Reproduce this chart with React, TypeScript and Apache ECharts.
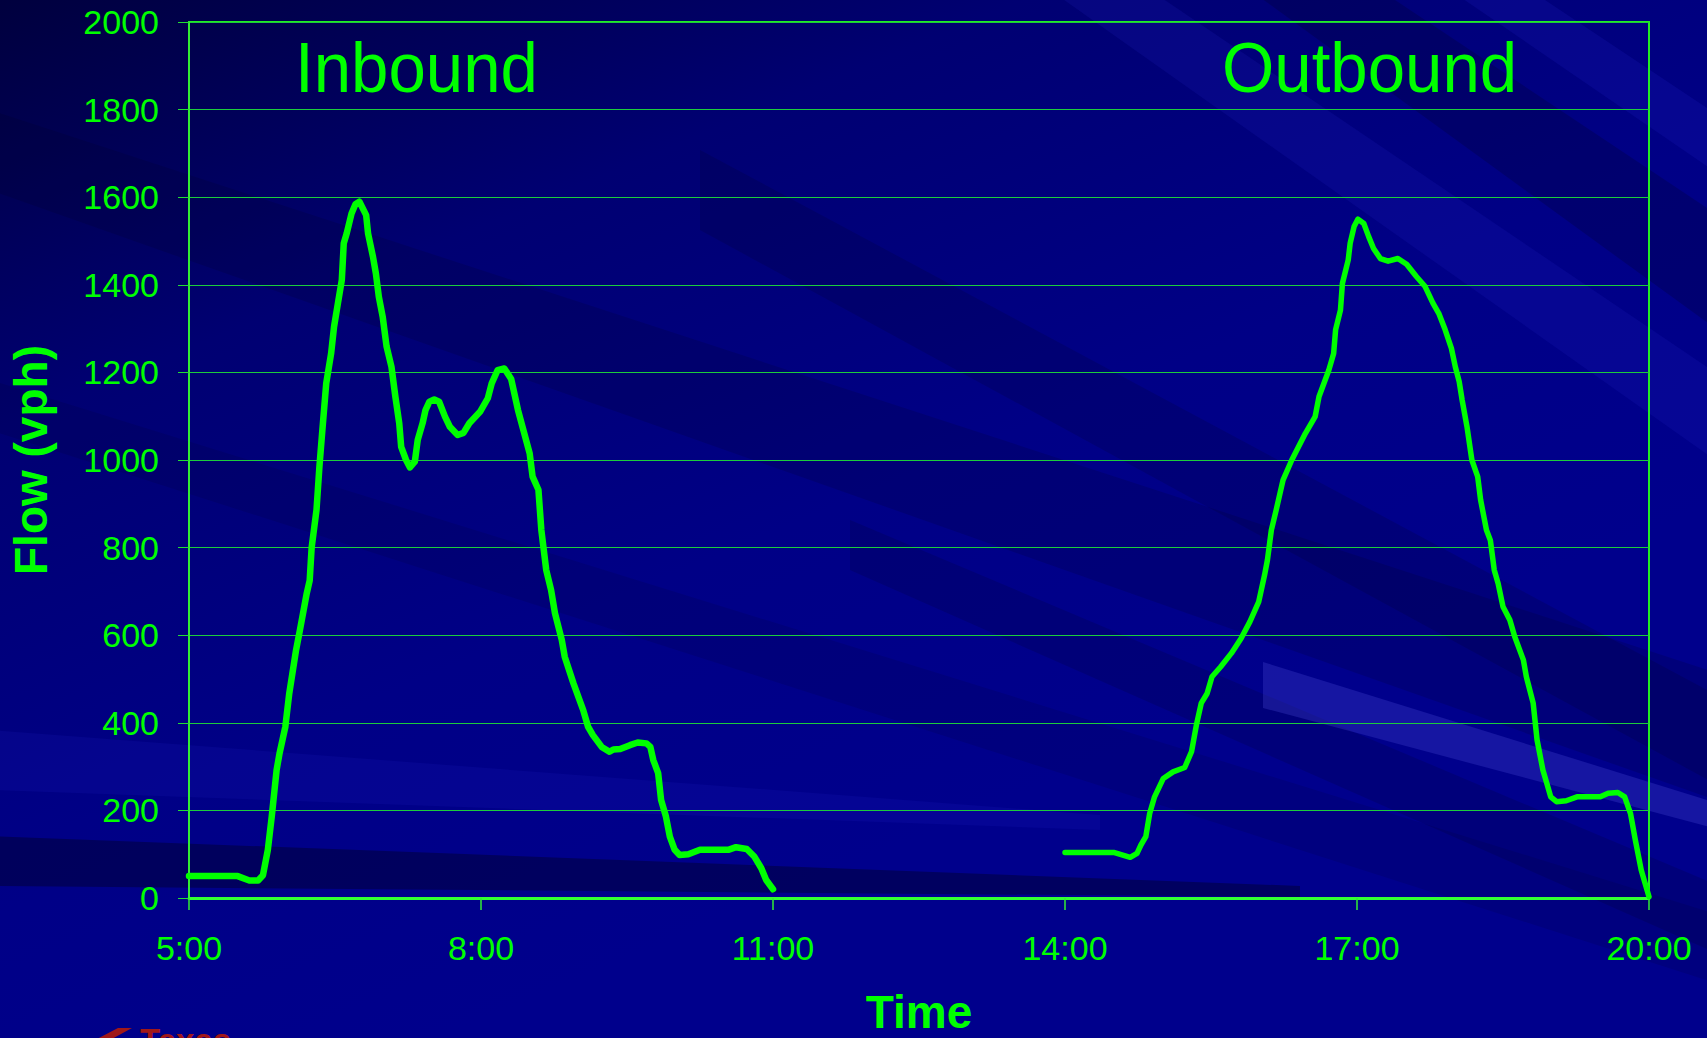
import React, { useEffect, useRef } from 'react';
import * as echarts from 'echarts';

// Clock time in decimal hours, flow in vehicles per hour
const inboundTime = [
  5.0, 5.5, 5.62, 5.71, 5.76, 5.81, 5.85, 5.9, 5.93, 5.99, 6.03, 6.1, 6.14, 6.21, 6.24, 6.26, 6.31, 6.34,
  6.37, 6.41, 6.46, 6.49, 6.53, 6.57, 6.59, 6.62, 6.67, 6.71, 6.75, 6.82, 6.84, 6.89, 6.92, 6.95, 6.99,
  7.03, 7.08, 7.12, 7.16, 7.18, 7.23, 7.27, 7.32, 7.35, 7.4, 7.43, 7.47, 7.52, 7.57, 7.63, 7.68, 7.76,
  7.82, 7.88, 7.99, 8.07, 8.11, 8.17, 8.24, 8.31, 8.38, 8.5, 8.53, 8.59, 8.62, 8.67, 8.72, 8.76, 8.83,
  8.86, 8.95, 9.05, 9.1, 9.15, 9.24, 9.32, 9.36, 9.43, 9.53, 9.61, 9.7, 9.74, 9.77, 9.82, 9.85, 9.9,
  9.94, 9.99, 10.04, 10.13, 10.25, 10.54, 10.62, 10.73, 10.81, 10.88, 10.93, 11.0,
];
const inboundFlow = [
  50, 50, 40, 40, 52, 110, 186, 292, 330, 391, 467, 566, 612, 696, 725, 800, 886, 985,
  1068, 1175, 1243, 1304, 1358, 1411, 1495, 1517, 1563, 1584, 1590, 1559, 1517, 1464, 1426, 1373, 1327,
  1259, 1213, 1145, 1084, 1030, 1000, 983, 996, 1046, 1084, 1114, 1133, 1138, 1133, 1099, 1076, 1057,
  1062, 1084, 1110, 1141, 1175, 1205, 1209, 1185, 1114, 1015, 962, 932, 840, 749, 703, 650, 589,
  551, 490, 429, 391, 372, 345, 334, 339, 340, 349, 355, 353, 345, 315, 285, 224, 186,
  140, 110, 98, 100, 110, 110, 116, 112, 94, 68, 41, 20,
];
const outboundTime = [
  14.0, 14.5, 14.67, 14.74, 14.78, 14.83, 14.87, 14.92, 15.01, 15.11, 15.23, 15.3, 15.35, 15.4, 15.46,
  15.51, 15.6, 15.71, 15.81, 15.9, 15.99, 16.05, 16.08, 16.12, 16.17, 16.24, 16.33, 16.47, 16.57, 16.61,
  16.71, 16.76, 16.78, 16.83, 16.85, 16.91, 16.93, 16.97, 17.01, 17.07, 17.12, 17.17, 17.24, 17.32, 17.42,
  17.51, 17.61, 17.7, 17.78, 17.84, 17.9, 17.97, 18.01, 18.05, 18.08, 18.13, 18.18, 18.24, 18.27, 18.33,
  18.37, 18.41, 18.45, 18.5, 18.57, 18.62, 18.71, 18.74, 18.81, 18.85, 18.91, 18.95, 18.99, 19.05, 19.15,
  19.26, 19.5, 19.58, 19.68, 19.75, 19.81, 19.86, 19.92, 20.0,
];
const outboundFlow = [
  104, 104, 93, 102, 121, 140, 193, 231, 273, 288, 298, 334, 395, 445, 467,
  505, 528, 559, 593, 631, 676, 737, 772, 840, 886, 954, 1000, 1061, 1099, 1145,
  1205, 1243, 1297, 1342, 1403, 1457, 1495, 1533, 1550, 1540, 1510, 1483, 1460, 1454, 1460,
  1447, 1419, 1396, 1358, 1335, 1301, 1255, 1213, 1179, 1137, 1076, 1000, 962, 909, 840,
  817, 749, 718, 665, 635, 597, 543, 505, 445, 361, 292, 262, 231, 220, 222,
  231, 231, 239, 241, 231, 193, 132, 64, 3,
];

const AXIS_START_HOUR = 5;
const AXIS_END_HOUR = 20;
const HOUR_STEP = 3;
const FLOW_MAX = 2000;
const FLOW_STEP = 200;
const panelTitles = ['Inbound', 'Outbound'];
const xAxisName = 'Time';
const yAxisName = 'Flow (vph)';
const logoText = 'Texas';

const GREEN = '#00ff00';
const FONT = '"Liberation Sans", Arial, Helvetica, sans-serif';

export default function App() {
  const ref = useRef<HTMLDivElement>(null);

  useEffect(() => {
    if (!ref.current) return;
    document.body.style.margin = '0';
    const chart = echarts.init(ref.current, null, { renderer: 'svg' });

    const toPairs = (t: number[], v: number[]) => t.map((h, i) => [h - AXIS_START_HOUR, v[i]]);

    const bg = (points: number[][], fill: string) => ({
      type: 'polygon',
      z: -50,
      silent: true,
      shape: { points },
      style: { fill },
    });
    const DARK = (a: number) => `rgba(0,0,30,${a})`;
    const LIGHT = (a: number) => `rgba(40,40,210,${a})`;

    const option: any = {
      animation: false,
      backgroundColor: 'transparent',
      graphic: [
        {
          type: 'rect',
          z: -100,
          silent: true,
          shape: { x: 0, y: 0, width: 1707, height: 1038 },
          style: {
            fill: {
              type: 'linear',
              x: 0, y: 0, x2: 0.55, y2: 0.8,
              colorStops: [
                { offset: 0, color: '#00003e' },
                { offset: 0.35, color: '#000072' },
                { offset: 0.7, color: '#000086' },
                { offset: 1, color: '#00008c' },
              ],
            },
          },
        },
        bg([[-10, 110], [-10, 190], [1800, 830], [1800, 700]], DARK(0.16)),
        bg([[-10, 380], [-10, 430], [1800, 1010], [1800, 940]], DARK(0.12)),
        bg([[-10, 836], [-10, 886], [1300, 897], [1300, 886]], DARK(0.4)),
        bg([[-10, 730], [-10, 790], [1100, 830], [1100, 815]], LIGHT(0.12)),
        bg([[700, 150], [700, 230], [1800, 830], [1800, 740]], DARK(0.16)),
        bg([[1050, -10], [1150, -10], [1800, 430], [1800, 520]], LIGHT(0.14)),
        bg([[1250, -10], [1380, -10], [1800, 270], [1800, 390]], DARK(0.22)),
        bg([[1450, -10], [1530, -10], [1800, 170], [1800, 230]], LIGHT(0.16)),
        bg([[850, 520], [850, 570], [1800, 990], [1800, 920]], DARK(0.16)),
        bg([[1263, 662], [1800, 829], [1800, 851], [1263, 708]], 'rgba(80,80,220,0.28)'),
        // partially visible logo at the bottom left
        {
          type: 'polygon',
          z: -40,
          silent: true,
          shape: { points: [[95, 1040], [118, 1028], [132, 1028], [110, 1040]] },
          style: { fill: '#a01818' },
        },
        {
          type: 'text',
          z: -40,
          silent: true,
          x: 140,
          y: 1024,
          style: {
            text: logoText,
            fill: '#a01818',
            font: `bold 33px ${FONT}`,
            align: 'left',
            verticalAlign: 'top',
          },
        },
        {
          type: 'text',
          z: 10,
          x: 295,
          y: 68,
          scaleX: 0.96,
          style: {
            text: panelTitles[0],
            fill: GREEN,
            font: `70px ${FONT}`,
            align: 'left',
            verticalAlign: 'middle',
          },
        },
        {
          type: 'text',
          z: 10,
          x: 1222,
          y: 68,
          scaleX: 0.96,
          style: {
            text: panelTitles[1],
            fill: GREEN,
            font: `70px ${FONT}`,
            align: 'left',
            verticalAlign: 'middle',
          },
        },
      ],
      grid: {
        left: 189,
        right: 58,
        top: 22,
        bottom: 140,
        containLabel: false,
        outerBoundsMode: 'none',
        show: true,
        borderColor: '#22ee22',
        borderWidth: 2,
        backgroundColor: 'transparent',
      },
      xAxis: {
        type: 'value',
        min: 0,
        max: AXIS_END_HOUR - AXIS_START_HOUR,
        interval: HOUR_STEP,
        axisLine: { show: true, onZero: false, lineStyle: { color: '#33ff33', width: 3 } },
        axisTick: { show: true, length: 12, lineStyle: { color: '#33ee33', width: 1.5 } },
        splitLine: { show: false },
        axisLabel: {
          color: GREEN,
          fontSize: 34,
          fontFamily: FONT,
          margin: 33,
          formatter: (v: number) => `${v + AXIS_START_HOUR}:00`,
        },
        name: xAxisName,
        nameLocation: 'middle',
        nameGap: 91,
        nameTextStyle: { color: GREEN, fontSize: 46, fontWeight: 'bold', fontFamily: FONT },
      },
      yAxis: {
        type: 'value',
        min: 0,
        max: FLOW_MAX,
        interval: FLOW_STEP,
        axisLine: { show: true, lineStyle: { color: '#33ee33', width: 2 } },
        axisTick: { show: true, length: 11, lineStyle: { color: '#22dd33', width: 1 } },
        splitLine: { show: true, lineStyle: { color: '#1ccc3c', width: 1.2 } },
        axisLabel: {
          color: GREEN,
          fontSize: 34,
          fontFamily: FONT,
          margin: 30,
          formatter: (v: number) => String(v),
        },
        name: yAxisName,
        nameLocation: 'middle',
        nameRotate: 90,
        nameGap: 135,
        nameTextStyle: { color: GREEN, fontSize: 46, fontWeight: 'bold', fontFamily: FONT },
      },
      series: [
        {
          name: panelTitles[0],
          type: 'line',
          data: toPairs(inboundTime, inboundFlow),
          showSymbol: false,
          symbol: 'none',
          smooth: false,
          z: 5,
          lineStyle: { color: GREEN, width: 6.5, join: 'round', cap: 'round' },
        },
        {
          name: panelTitles[1],
          type: 'line',
          data: toPairs(outboundTime, outboundFlow),
          showSymbol: false,
          symbol: 'none',
          smooth: false,
          z: 5,
          lineStyle: { color: GREEN, width: 5.5, join: 'round', cap: 'round' },
        },
      ],
    };

    chart.setOption(option);
    return () => chart.dispose();
  }, []);

  return (
    <div
      ref={ref}
      style={{ position: 'absolute', left: 0, top: 0, width: 1707, height: 1038 }}
    />
  );
}
